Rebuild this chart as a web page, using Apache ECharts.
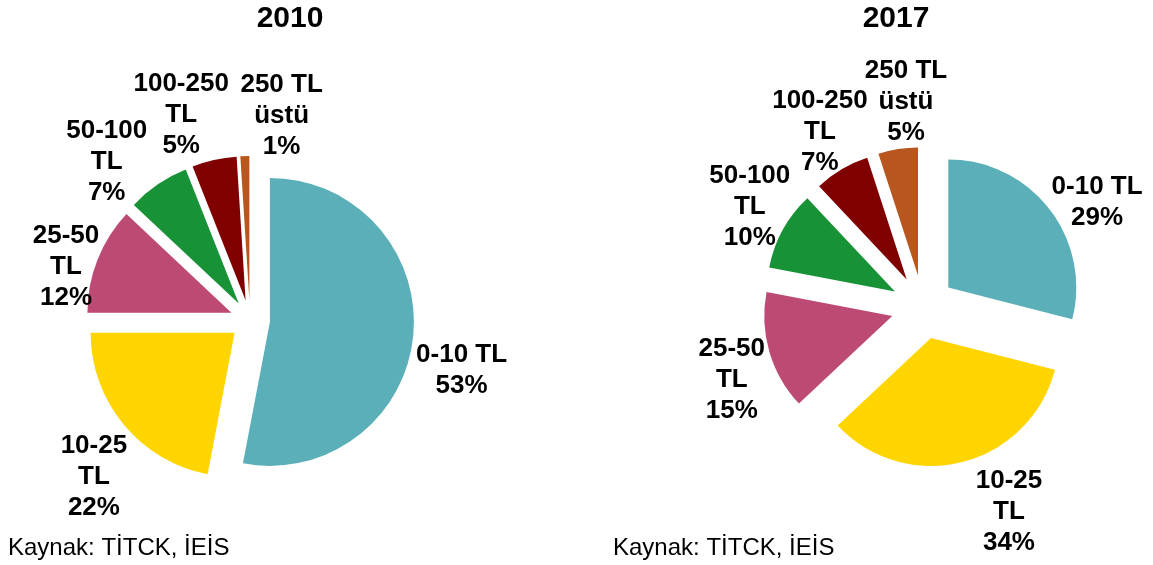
<!DOCTYPE html>
<html><head><meta charset="utf-8">
<script src="https://cdn.jsdelivr.net/npm/echarts@6/dist/echarts.min.js"></script>
<style>html,body{margin:0;padding:0;background:#fff}#c{width:1153px;height:565px}</style>
</head><body><div id="c"></div>
<script>
// ---- data ----
const categories = ['0-10 TL', '10-25 TL', '25-50 TL', '50-100 TL', '100-250 TL', '250 TL üstü'];
const labelNames = ['0-10 TL', '10-25\nTL', '25-50\nTL', '50-100\nTL', '100-250\nTL', '250 TL\nüstü'];
const values2010 = [53, 22, 12, 7, 5, 1];
const values2017 = [29, 34, 15, 10, 7, 5];
const years = ['2010', '2017'];
const sourceText = 'Kaynak: TİTCK, İEİS';

// ---- style / layout ----
const colors = ['#5AAFB8', '#FFD500', '#BC4A74', '#179236', '#800000', '#B8561F'];
const FONT = "'Liberation Sans', Arial, sans-serif";
const pies = [
  { center: [250, 320], radius: 144, offset: 20, titleX: 290, sourceX: 8 },
  { center: [923, 307], radius: 128, offset: 32, titleX: 896, sourceX: 613 }
];
// label anchor: distance from pie centre and angular nudge (deg) from slice mid-angle
const labelPlace = [
  { dist: [217, 220, 192, 215, 218, 209], turn: [7.4, -5.2, -5.0, -7.6, -5.8, 10.5] },
  { dist: [204, 220, 204, 201, 205, 208], turn: [6.4, -8.6, -4.2, 1.7, 0.4, 4.3] }
];
const labelShiftY = 2;
const allValues = [values2010, values2017];

function midAngle(vals, i) {
  const total = vals.reduce((a, b) => a + b, 0);
  let cum = 0;
  for (let k = 0; k < i; k++) cum += vals[k];
  return (cum + vals[i] / 2) / total * 360;
}

const chart = echarts.init(document.getElementById('c'), null, { renderer: 'canvas' });

const titles = [];
years.forEach((y, s) => {
  titles.push({
    text: y, left: pies[s].titleX, top: 4, padding: 0, textAlign: 'center',
    textStyle: { fontFamily: FONT, fontSize: 30, fontWeight: 'bold', color: '#000' }
  });
  titles.push({
    text: sourceText, left: pies[s].sourceX, top: 536, padding: 0,
    textStyle: { fontFamily: FONT, fontSize: 24, fontWeight: 'normal', color: '#000' }
  });
});

const series = [];
// exploded slices
allValues.forEach((vals, s) => {
  series.push({
    type: 'pie',
    center: pies[s].center,
    radius: pies[s].radius,
    startAngle: 90,
    clockwise: true,
    selectedMode: 'multiple',
    selectedOffset: pies[s].offset,
    avoidLabelOverlap: false,
    animation: false,
    emphasis: { disabled: true },
    itemStyle: { borderWidth: 0 },
    label: { show: false },
    labelLine: { show: false },
    data: vals.map((v, i) => ({
      name: categories[i], value: v, selected: true,
      itemStyle: { color: colors[i] }
    }))
  });
});
// labels (same data, unexploded transparent layer carrying the labels)
allValues.forEach((vals, s) => {
  series.push({
    type: 'pie',
    center: pies[s].center,
    radius: pies[s].radius,
    startAngle: 90,
    clockwise: true,
    silent: true,
    selectedMode: false,
    avoidLabelOverlap: false,
    animation: false,
    z: 5,
    emphasis: { disabled: true },
    itemStyle: { color: 'rgba(0,0,0,0)', borderWidth: 0 },
    label: {
      show: true,
      position: 'outside',
      fontFamily: FONT,
      fontSize: 26,
      fontWeight: 'bold',
      lineHeight: 31,
      color: '#000',
      formatter: p => labelNames[p.dataIndex] + '\n' + p.value + '%'
    },
    labelLine: { show: false },
    labelLayout: function (params) {
      const i = params.dataIndex;
      const a = (midAngle(vals, i) + labelPlace[s].turn[i]) * Math.PI / 180;
      const d = labelPlace[s].dist[i];
      return {
        x: pies[s].center[0] + d * Math.sin(a),
        y: pies[s].center[1] - d * Math.cos(a) + labelShiftY,
        align: 'center',
        verticalAlign: 'middle'
      };
    },
    data: vals.map((v, i) => ({ name: categories[i], value: v }))
  });
});

chart.setOption({
  backgroundColor: '#fff',
  animation: false,
  tooltip: { show: false },
  title: titles,
  series: series
});
</script>
</body></html>
